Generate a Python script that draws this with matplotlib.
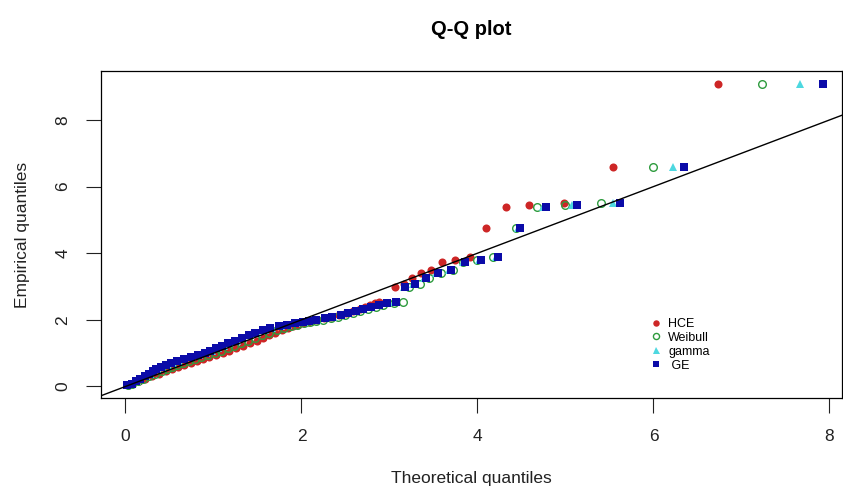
import matplotlib
matplotlib.use("Agg")
import matplotlib.pyplot as plt

plt.rcParams['font.family'] = ['Liberation Sans', 'DejaVu Sans']

# cuantiles empiricos (ordenados), comunes a las cuatro distribuciones
empirical = [0.03, 0.08, 0.15, 0.22, 0.30, 0.38, 0.45, 0.52, 0.58, 0.64,
             0.70, 0.76, 0.82, 0.88, 0.95, 1.02, 1.08, 1.15, 1.22, 1.30,
             1.38, 1.46, 1.54, 1.62, 1.70, 1.76, 1.82, 1.86, 1.90, 1.93,
             1.96, 2.00, 2.05, 2.10, 2.16, 2.22, 2.28, 2.34, 2.40, 2.46,
             2.52, 2.55, 3.00, 3.08, 3.27, 3.42, 3.50, 3.75, 3.80, 3.90,
             4.77, 5.40, 5.45, 5.52, 6.60, 9.08]

# cuantiles teoricos de cada modelo
q_hce = [0.03, 0.08, 0.15, 0.22, 0.30, 0.38, 0.46, 0.53, 0.60, 0.67,
         0.74, 0.81, 0.88, 0.95, 1.03, 1.11, 1.18, 1.26, 1.33, 1.41,
         1.49, 1.56, 1.63, 1.70, 1.78, 1.85, 1.90, 1.96, 2.02, 2.07,
         2.12, 2.18, 2.26, 2.34, 2.43, 2.51, 2.59, 2.66, 2.72, 2.78,
         2.84, 2.88, 3.06, 3.16, 3.26, 3.36, 3.47, 3.60, 3.74, 3.91,
         4.10, 4.32, 4.59, 4.98, 5.54, 6.73]
q_weibull = [0.03, 0.08, 0.14, 0.20, 0.27, 0.34, 0.41, 0.47, 0.53, 0.59,
             0.65, 0.72, 0.79, 0.86, 0.94, 1.02, 1.08, 1.16, 1.23, 1.31,
             1.39, 1.47, 1.55, 1.63, 1.72, 1.80, 1.88, 1.95, 2.03, 2.10,
             2.17, 2.25, 2.33, 2.42, 2.50, 2.58, 2.67, 2.76, 2.85, 2.93,
             3.05, 3.15, 3.22, 3.35, 3.45, 3.58, 3.72, 3.84, 4.00, 4.18,
             4.44, 4.68, 5.00, 5.40, 6.00, 7.23]
q_gamma = [0.02, 0.07, 0.13, 0.17, 0.23, 0.28, 0.33, 0.37, 0.42, 0.48,
           0.54, 0.61, 0.68, 0.76, 0.84, 0.92, 0.98, 1.05, 1.12, 1.19,
           1.27, 1.34, 1.42, 1.49, 1.58, 1.66, 1.77, 1.85, 1.94, 2.03,
           2.09, 2.18, 2.27, 2.36, 2.45, 2.53, 2.61, 2.69, 2.78, 2.86,
           2.95, 3.05, 3.16, 3.27, 3.39, 3.53, 3.68, 3.84, 4.02, 4.21,
           4.46, 4.74, 5.07, 5.54, 6.22, 7.67]
q_ge = [0.02, 0.07, 0.12, 0.16, 0.22, 0.27, 0.31, 0.35, 0.40, 0.46,
        0.52, 0.59, 0.66, 0.74, 0.82, 0.90, 0.96, 1.03, 1.10, 1.17,
        1.25, 1.32, 1.40, 1.47, 1.56, 1.64, 1.75, 1.83, 1.93, 2.02,
        2.08, 2.17, 2.27, 2.35, 2.45, 2.53, 2.62, 2.70, 2.79, 2.88,
        2.97, 3.07, 3.18, 3.29, 3.41, 3.55, 3.70, 3.86, 4.04, 4.23,
        4.48, 4.78, 5.13, 5.62, 6.35, 7.93]

labels = ["HCE", "Weibull", "gamma", " GE"]
x_ticks = [0, 2, 4, 6, 8]
y_ticks = [0, 2, 4, 6, 8]

fig = plt.figure(figsize=(8.43, 4.95), dpi=100)
ax = fig.add_axes([0.1198, 0.196, 0.9988 - 0.1198, 0.8566 - 0.196])

ms = 5.8
ax.plot(q_hce, empirical, 'o', color='#CD2626', ms=ms, mew=0, label=labels[0], zorder=2)
ax.plot(q_weibull, empirical, 'o', mfc='none', mec='#2E9B3E', ms=ms - 0.3, mew=1, label=labels[1], zorder=3)
ax.plot(q_gamma, empirical, '^', color='#4DD8E0', ms=ms + 0.5, mew=0, label=labels[2], zorder=4)
ax.plot(q_ge, empirical, 's', color='#0B0BA8', ms=ms - 0.4, mew=0, label=labels[3], zorder=5)

# linea de referencia y = x
ax.axline((0, 0), slope=1, color='black', lw=1, zorder=6)

ax.set_xlim(-0.278, 8.142)
ax.set_ylim(-0.345, 9.47)
ax.set_xticks(x_ticks)
ax.set_yticks(y_ticks)
ax.tick_params(length=11, width=0.8, pad=11, labelsize=12.5, colors='#222222')
for lab in ax.get_yticklabels():
    lab.set_rotation(90)
    lab.set_va('center')
for s in ax.spines.values():
    s.set_linewidth(0.9)

ax.set_xlabel("Theoretical quantiles", fontsize=12.5, labelpad=20, color='#222222')
ax.set_ylabel("Empirical quantiles", fontsize=12.5, labelpad=18, color='#222222')
fig.text(0.559, 0.94, "Q-Q plot", ha='center', va='center', fontsize=14.5,
         fontweight='bold')

ax.legend(loc='upper left', bbox_to_anchor=(0.735, 0.26), frameon=False,
          fontsize=9, handlelength=0.8, handletextpad=0.6, labelspacing=0.15,
          markerscale=0.8, borderaxespad=0)

fig.savefig("out.png", dpi=100)
